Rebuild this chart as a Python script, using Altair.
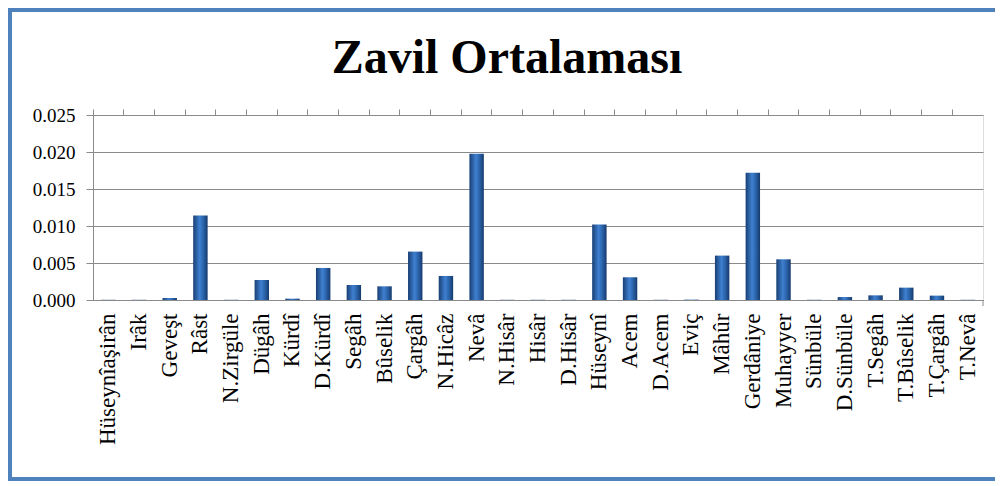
import altair as alt
import pandas as pd

title_text = "Zavil Ortalaması"
categories = ["Hüseynîaşirân", "Irâk", "Geveşt", "Râst", "N.Zirgüle", "Dügâh", "Kürdî",
              "D.Kürdî", "Segâh", "Bûselik", "Çargâh", "N.Hicâz", "Nevâ", "N.Hisâr",
              "Hisâr", "D.Hisâr", "Hüseynî", "Acem", "D.Acem", "Eviç", "Mâhûr",
              "Gerdâniye", "Muhayyer", "Sünbüle", "D.Sünbüle", "T.Segâh", "T.Bûselik",
              "T.Çargâh", "T.Nevâ"]
values = [0.00003, 0.00003, 0.00027, 0.01142, 0.00003, 0.00270, 0.00018,
          0.00433, 0.00203, 0.00185, 0.00654, 0.00325, 0.01977, 0.00003,
          0.00003, 0.00003, 0.01020, 0.00307, 0.00003, 0.00005, 0.00600,
          0.01719, 0.00550, 0.00003, 0.00040, 0.00063, 0.00167,
          0.00059, 0.00003]
y_ticks = [0.0, 0.005, 0.010, 0.015, 0.020, 0.025]

df = pd.DataFrame({"makam": categories, "deger": values})

W, H = 890, 185
PAD_L, PAD_T, PAD_R, PAD_B = 85, 107, 12, 181
FONT = "Liberation Serif"
GRAY = "#8a8a8a"
BLUE = "#4f81bd"

grad = alt.Gradient(
    gradient="linear",
    stops=[alt.GradientStop(color="#183f74", offset=0),
           alt.GradientStop(color="#3f80d0", offset=0.45),
           alt.GradientStop(color="#2b64ab", offset=0.7),
           alt.GradientStop(color="#163a6c", offset=1)],
    x1=0, x2=1, y1=0, y2=0)

x_scale = alt.Scale(paddingInner=0, paddingOuter=0)
y_scale = alt.Scale(domain=[0, 0.025])

bars = alt.Chart(df).mark_bar(width=alt.RelativeBandSize(0.47), color=grad).encode(
    x=alt.X("makam:N", sort=categories, scale=x_scale, title=None,
            axis=alt.Axis(labelAngle=-90, labelFont=FONT, labelFontSize=23,
                          labelColor="black", ticks=False, domain=True,
                          domainColor=GRAY, labelPadding=13, grid=False,
                          labelOverlap=False, labelLimit=300)),
    y=alt.Y("deger:Q", scale=y_scale, title=None,
            axis=alt.Axis(values=y_ticks, format=".3f", labelFont=FONT,
                          labelFontSize=19, labelColor="black", tickSize=7,
                          tickColor=GRAY, domainColor=GRAY, gridColor=GRAY,
                          labelPadding=11)),
)

ticks = alt.Chart(df).mark_point(opacity=0).encode(
    x=alt.X("makam:N", sort=categories, scale=x_scale, title=None,
            axis=alt.Axis(labels=False, ticks=True, tickSize=6, tickColor=GRAY,
                          bandPosition=0, domain=False, grid=False)),
)

end_tick = alt.Chart(alt.Data(values=[{}])).mark_rule(color=GRAY).encode(
    x=alt.value(W), y=alt.value(H), y2=alt.value(H + 6))

one = alt.Data(values=[{}])
left_b = alt.Chart(one).mark_rule(color=BLUE, strokeWidth=4).encode(
    x=alt.value(-PAD_L + 2), y=alt.value(-PAD_T), y2=alt.value(H + PAD_B))
top_b = alt.Chart(one).mark_rule(color=BLUE, strokeWidth=4).encode(
    x=alt.value(-PAD_L), x2=alt.value(W + PAD_R), y=alt.value(-PAD_T + 2))
bot_b = alt.Chart(one).mark_rule(color=BLUE, strokeWidth=4).encode(
    x=alt.value(-PAD_L), x2=alt.value(W + PAD_R), y=alt.value(H + PAD_B - 2))

title = alt.Chart(alt.Data(values=[{"t": title_text}])).mark_text(
    font=FONT, fontSize=48, fontWeight="bold", color="black",
    align="center", baseline="alphabetic").encode(
    text="t:N", x=alt.value(414), y=alt.value(-42))

chart = alt.layer(bars, ticks, end_tick, left_b, top_b, bot_b, title).resolve_axis(x="independent").properties(
    width=W, height=H,
    autosize=alt.AutoSizeParams(type="none"),
    padding={"left": PAD_L, "top": PAD_T, "right": PAD_R, "bottom": PAD_B},
).configure_view(stroke=None).configure(background="white")

chart.save("out.html", embed_options={"renderer": "svg", "actions": False})
